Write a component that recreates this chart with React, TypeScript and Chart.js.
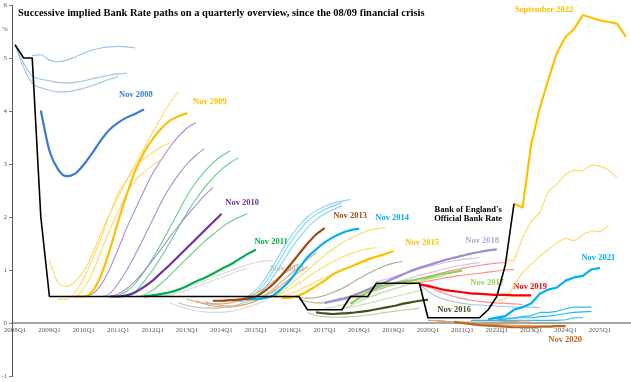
import React, { useEffect, useRef } from 'react';
import { Chart, registerables } from 'chart.js';

Chart.register(...registerables);

// ---------- x-axis tick labels (one every 4 quarters, 2008Q1 = quarter index 0) ----------
const tickLabels = [
  '2008Q1', '2009Q1', '2010Q1', '2011Q1', '2012Q1', '2013Q1', '2014Q1', '2015Q1', '2016Q1',
  '2017Q1', '2018Q1', '2019Q1', '2020Q1', '2021Q1', '2022Q1', '2023Q1', '2024Q1', '2025Q1',
];

// ---------- Bank of England's Official Bank Rate (quarterly, from 2008Q1) ----------
const bankRate = [
  5.25, 5.0, 5.0, 2.0,
  0.5, 0.5, 0.5, 0.5, 0.5, 0.5, 0.5, 0.5, 0.5, 0.5, 0.5, 0.5, 0.5, 0.5, 0.5,
  0.5, 0.5, 0.5, 0.5, 0.5, 0.5, 0.5, 0.5, 0.5, 0.5, 0.5, 0.5, 0.5, 0.5, 0.5,
  0.25, 0.25, 0.25, 0.25, 0.25,
  0.5, 0.5, 0.5,
  0.75, 0.75, 0.75, 0.75, 0.75, 0.75,
  0.1, 0.1, 0.1, 0.1, 0.1, 0.1, 0.1,
  0.25, 0.5, 1.1, 2.25,
];

// ---------- implied Bank Rate paths (quarterly values from their start quarter) ----------
const feb2008 = [5.25, 4.82, 4.52, 4.44, 4.39, 4.36, 4.36, 4.39, 4.43, 4.48, 4.54, 4.6, 4.65];
const may2008 = [5.25, 4.9, 4.66, 4.6, 4.57, 4.54, 4.53, 4.54, 4.57, 4.61, 4.64, 4.68, 4.7, 4.71];
const aug2008 = [5.05, 5.06, 4.96, 4.93, 4.96, 5.02, 5.09, 5.15, 5.19, 5.21, 5.22, 5.21, 5.19];
const nov2008 = [4.01, 3.25, 2.9, 2.77, 2.82, 2.99, 3.21, 3.45, 3.65, 3.78, 3.88, 3.95, 4.03];

const feb2009 = [1.19, 0.76, 0.69, 0.79, 0.98, 1.3, 1.7, 2.05, 2.38, 2.7, 3.0, 3.3, 3.6, 3.88, 4.15, 4.36];
const may2009 = [0.45, 0.45, 0.58, 0.85, 1.2, 1.6, 2.05, 2.45, 2.7, 2.95, 3.1, 3.22, 3.32, 3.4];
const aug2009 = [0.47, 0.65, 0.95, 1.35, 1.75, 2.1, 2.45, 2.7, 2.85, 2.97, 3.09];
const nov2009 = [0.5, 0.5, 0.6, 0.9, 1.37, 1.92, 2.43, 2.88, 3.22, 3.47, 3.67, 3.82, 3.9, 3.96];

const feb2010 = [0.5, 0.55, 0.72, 1.02, 1.4, 1.8, 2.15, 2.5, 2.82, 3.08, 3.32, 3.52, 3.68, 3.78];
const may2010 = [0.5, 0.5, 0.55, 0.75, 1.0, 1.3, 1.62, 1.95, 2.28, 2.56, 2.8, 3.0, 3.16, 3.29];
const aug2010 = [0.5, 0.5, 0.55, 0.65, 0.8, 0.98, 1.18, 1.4, 1.62, 1.83, 2.03, 2.22, 2.4, 2.56];
const nov2010 = [0.5, 0.5, 0.52, 0.58, 0.68, 0.8, 0.95, 1.1, 1.26, 1.42, 1.58, 1.74, 1.9, 2.06];

const feb2011 = [0.5, 0.52, 0.6, 0.75, 0.97, 1.22, 1.5, 1.8, 2.1, 2.4, 2.65, 2.85, 3.02, 3.15, 3.25];
const may2011 = [0.5, 0.52, 0.6, 0.78, 1.0, 1.25, 1.52, 1.8, 2.08, 2.33, 2.55, 2.74, 2.9, 3.02, 3.12];
const aug2011 = [0.5, 0.5, 0.53, 0.62, 0.75, 0.9, 1.06, 1.22, 1.38, 1.53, 1.67, 1.8, 1.91, 1.99, 2.06];
const nov2011 = [0.5, 0.52, 0.55, 0.58, 0.63, 0.7, 0.78, 0.85, 0.93, 1.02, 1.1, 1.2, 1.3, 1.38];

const feb2012 = [0.5, 0.52, 0.56, 0.61, 0.67, 0.73, 0.79, 0.86, 0.92, 0.98, 1.04, 1.1, 1.14, 1.17, 1.18];
const may2012 = [0.5, 0.53, 0.57, 0.62, 0.68, 0.74, 0.8, 0.86, 0.92, 0.98, 1.03];
const aug2012 = [0.38, 0.32, 0.27, 0.23, 0.21, 0.2, 0.2, 0.22, 0.25, 0.3, 0.35, 0.41];
const nov2012 = [0.38, 0.33, 0.3, 0.28, 0.28, 0.29, 0.31, 0.35, 0.4, 0.46, 0.52, 0.58, 0.64];

const feb2013 = [0.45, 0.4, 0.37, 0.36, 0.36, 0.38, 0.42, 0.48, 0.56, 0.66, 0.78, 0.9, 1.02, 1.12];
const may2013 = [0.42, 0.36, 0.32, 0.3, 0.3, 0.32, 0.36, 0.42, 0.5, 0.6, 0.72, 0.84, 0.96, 1.06];
const aug2013 = [0.4, 0.36, 0.33, 0.32, 0.33, 0.36, 0.42, 0.52, 0.64, 0.78, 0.92, 1.06, 1.2, 1.32];
const nov2013 = [0.42, 0.42, 0.43, 0.44, 0.46, 0.5, 0.6, 0.73, 0.9, 1.1, 1.3, 1.5, 1.67, 1.79];

const feb2014 = [0.42, 0.43, 0.45, 0.5, 0.62, 0.82, 1.08, 1.36, 1.62, 1.83, 2.0, 2.12, 2.2, 2.26, 2.3, 2.33];
const may2014 = [0.42, 0.46, 0.56, 0.74, 0.98, 1.25, 1.52, 1.74, 1.92, 2.05, 2.14, 2.21, 2.27];
const aug2014 = [0.4, 0.43, 0.5, 0.65, 0.87, 1.12, 1.38, 1.6, 1.8, 1.95, 2.06, 2.14, 2.21];
const nov2014 = [0.45, 0.45, 0.47, 0.52, 0.65, 0.81, 1.03, 1.24, 1.39, 1.52, 1.62, 1.7, 1.75, 1.78];

const feb2015 = [0.45, 0.47, 0.52, 0.6, 0.72, 0.86, 1.0, 1.14, 1.28, 1.4, 1.51, 1.6, 1.68, 1.74, 1.78, 1.8];
const may2015 = [0.47, 0.5, 0.56, 0.65, 0.75, 0.86, 0.97, 1.07, 1.16, 1.24, 1.31, 1.36, 1.4, 1.42];
const aug2015 = [0.47, 0.5, 0.55, 0.62, 0.7, 0.78, 0.86, 0.93, 1.0, 1.06, 1.12, 1.17];
const nov2015 = [0.47, 0.48, 0.52, 0.6, 0.7, 0.8, 0.92, 1.0, 1.06, 1.13, 1.2, 1.25, 1.3, 1.36];

const feb2016 = [0.5, 0.48, 0.47, 0.48, 0.52, 0.58, 0.65, 0.74, 0.84, 0.93, 1.01, 1.08, 1.13, 1.16];
const may2016 = [0.45, 0.4, 0.38, 0.38, 0.4, 0.43, 0.47, 0.52, 0.57, 0.62, 0.67, 0.72];
const aug2016 = [0.2, 0.14, 0.12, 0.11, 0.11, 0.12, 0.13, 0.15, 0.17, 0.2, 0.22, 0.24, 0.26, 0.28];
const nov2016 = [0.2, 0.18, 0.17, 0.18, 0.19, 0.21, 0.23, 0.26, 0.29, 0.32, 0.36, 0.39, 0.42, 0.44];

const feb2017 = [0.28, 0.3, 0.34, 0.39, 0.44, 0.49, 0.54, 0.59, 0.64, 0.69, 0.74, 0.79, 0.84, 0.88];
const may2017 = [0.25, 0.27, 0.3, 0.33, 0.37, 0.41, 0.45, 0.49, 0.53, 0.57, 0.61, 0.64];
const aug2017 = [0.27, 0.33, 0.4, 0.47, 0.53, 0.59, 0.64, 0.69, 0.74, 0.78, 0.82, 0.86, 0.89];
const nov2017 = [0.36, 0.48, 0.58, 0.66, 0.71, 0.75, 0.78, 0.8, 0.83, 0.86, 0.9, 0.93, 0.96, 0.99];

const feb2018 = [0.78, 0.82, 0.87, 0.92, 0.97, 1.02, 1.06, 1.1, 1.14, 1.17, 1.2, 1.22, 1.23];
const may2018 = [0.72, 0.76, 0.8, 0.85, 0.9, 0.94, 0.98, 1.02, 1.06, 1.09, 1.12, 1.14];
const nov2018 = [0.38, 0.42, 0.46, 0.5, 0.56, 0.63, 0.7, 0.77, 0.84, 0.91, 0.98, 1.04, 1.09, 1.14, 1.19, 1.23, 1.27, 1.31, 1.34, 1.37, 1.39];

const feb2019 = [0.72, 0.76, 0.8, 0.84, 0.88, 0.92, 0.96, 1.0, 1.03, 1.06, 1.09, 1.11, 1.13, 1.14];
const may2019 = [0.7, 0.73, 0.76, 0.79, 0.82, 0.85, 0.88, 0.9, 0.92, 0.94, 0.96, 0.98, 1.0, 1.01];
const aug2019 = [0.73, 0.68, 0.62, 0.55, 0.5, 0.46, 0.43, 0.41, 0.39, 0.38, 0.37, 0.36, 0.35];
const nov2019 = [0.73, 0.7, 0.66, 0.62, 0.6, 0.58, 0.56, 0.55, 0.54, 0.53, 0.53, 0.52, 0.52, 0.52];

const feb2020 = [0.73, 0.6, 0.5, 0.44, 0.4, 0.37, 0.35, 0.34, 0.33, 0.32, 0.31, 0.3, 0.3, 0.3, 0.29];
const may2020 = [0.05, 0.04, 0.03, 0.02, 0.02, 0.02, 0.02, 0.02, 0.02, 0.03, 0.03, 0.04, 0.04];
const aug2020 = [0.05, 0.03, 0.01, 0.0, -0.01, -0.02, -0.03, -0.03, -0.04, -0.04, -0.05, -0.05, -0.06, -0.06, -0.06, -0.06];
const nov2020 = [0.02, 0.0, -0.02, -0.04, -0.05, -0.06, -0.07, -0.08, -0.08, -0.08, -0.07, -0.07, -0.06, -0.06];

const feb2021 = [0.05, 0.05, 0.05, 0.05, 0.05, 0.05, 0.05, 0.05, 0.05, 0.05, 0.05, 0.06, 0.1, 0.1];
const may2021 = [0.08, 0.08, 0.09, 0.1, 0.12, 0.14, 0.2, 0.2, 0.22, 0.27, 0.3, 0.3, 0.3];
const aug2021 = [0.06, 0.07, 0.09, 0.1, 0.1, 0.12, 0.13, 0.15, 0.18, 0.2, 0.21, 0.22];
const nov2021 = [0.07, 0.1, 0.13, 0.25, 0.3, 0.37, 0.55, 0.63, 0.67, 0.8, 0.86, 0.89, 1.01, 1.04];

const feb2022 = [0.42, 0.45, 0.7, 0.95, 1.11, 1.26, 1.39, 1.52, 1.6, 1.55, 1.67, 1.74, 1.72, 1.83];
const may2022 = [1.2, 1.17, 1.61, 1.92, 2.08, 2.49, 2.62, 2.81, 2.88, 2.87, 2.98, 2.96, 2.89, 2.74];
const sep2022 = [2.25, 2.18, 3.37, 4.06, 4.6, 5.1, 5.4, 5.55, 5.81, 5.76, 5.71, 5.68, 5.65, 5.4];

// [name, first quarter, values]
const paths: [string, string, number[]][] = [
  ['Feb 2008', '2008Q1', feb2008], ['May 2008', '2008Q1', may2008], ['Aug 2008', '2008Q3', aug2008], ['Nov 2008', '2008Q4', nov2008],
  ['Feb 2009', '2009Q1', feb2009], ['May 2009', '2009Q2', may2009], ['Aug 2009', '2009Q4', aug2009], ['Nov 2009', '2009Q4', nov2009],
  ['Feb 2010', '2010Q1', feb2010], ['May 2010', '2010Q2', may2010], ['Aug 2010', '2010Q3', aug2010], ['Nov 2010', '2010Q4', nov2010],
  ['Feb 2011', '2010Q4', feb2011], ['May 2011', '2011Q1', may2011], ['Aug 2011', '2011Q2', aug2011], ['Nov 2011', '2011Q4', nov2011],
  ['Feb 2012', '2012Q1', feb2012], ['May 2012', '2012Q2', may2012], ['Aug 2012', '2012Q3', aug2012], ['Nov 2012', '2012Q4', nov2012],
  ['Feb 2013', '2013Q1', feb2013], ['May 2013', '2013Q2', may2013], ['Aug 2013', '2013Q3', aug2013], ['Nov 2013', '2013Q4', nov2013],
  ['Feb 2014', '2014Q1', feb2014], ['May 2014', '2014Q3', may2014], ['Aug 2014', '2014Q3', aug2014], ['Nov 2014', '2014Q4', nov2014],
  ['Feb 2015', '2015Q1', feb2015], ['May 2015', '2015Q2', may2015], ['Aug 2015', '2015Q3', aug2015], ['Nov 2015', '2015Q4', nov2015],
  ['Feb 2016', '2016Q1', feb2016], ['May 2016', '2016Q2', may2016], ['Aug 2016', '2016Q3', aug2016], ['Nov 2016', '2016Q4', nov2016],
  ['Feb 2017', '2017Q1', feb2017], ['May 2017', '2017Q2', may2017], ['Aug 2017', '2017Q3', aug2017], ['Nov 2017', '2017Q4', nov2017],
  ['Feb 2018', '2018Q3', feb2018], ['May 2018', '2018Q4', may2018], ['Nov 2018', '2017Q1', nov2018],
  ['Feb 2019', '2019Q1', feb2019], ['May 2019', '2019Q2', may2019], ['Aug 2019', '2019Q4', aug2019], ['Nov 2019', '2019Q4', nov2019],
  ['Feb 2020', '2019Q4', feb2020], ['May 2020', '2020Q1', may2020], ['Aug 2020', '2020Q2', aug2020], ['Nov 2020', '2020Q4', nov2020],
  ['Feb 2021', '2021Q2', feb2021], ['May 2021', '2021Q4', may2021], ['Aug 2021', '2022Q1', aug2021], ['Nov 2021', '2021Q4', nov2021],
  ['Feb 2022', '2022Q1', feb2022], ['May 2022', '2022Q2', may2022], ['September 2022', '2022Q3', sep2022],
];

// ---------- styles ----------
const groupColors: Record<string, [string, string]> = {
  '2008': ['#9dc3e6', '#3a7ad6'],
  '2009': ['#ffd966', '#ffc000'],
  '2010': ['#a98bd4', '#7030a0'],
  '2011': ['#63cc8e', '#00b050'],
  '2012': ['#d9d9d9', '#bfbfbf'],
  '2013': ['#d8a77c', '#9c4a0c'],
  '2014': ['#7fd3f7', '#00b0f0'],
  '2015': ['#ffd966', '#ffc000'],
  '2016': ['#a9ae8c', '#3d5220'],
  '2017': ['#c5e0b4', '#92d050'],
  '2018': ['#cdc2e6', '#9d8fcf'],
  '2019': ['#ff8a8a', '#ff0000'],
  '2020': ['#d6a06a', '#c0651f'],
  '2021': ['#29b9f0', '#00b0f0'],
  '2022': ['#ffd966', '#ffc000'],
};
const specialColors: Record<string, string> = {
  'Feb 2020': '#a9bfe0',
  'Nov 2012': '#bfbfbf',
  'Aug 2016': '#c3c8a8',
  'May 2016': '#b3b3a0',
};
const thickNames = new Set([
  'Nov 2008', 'Nov 2009', 'Nov 2010', 'Nov 2011', 'Nov 2013', 'Nov 2014', 'Nov 2015', 'Nov 2016',
  'Nov 2017', 'Nov 2018', 'Nov 2019', 'Nov 2020', 'Nov 2021', 'September 2022',
]);
const straightNames = new Set([
  'Feb 2021', 'May 2021', 'Aug 2021', 'Nov 2021', 'Feb 2022', 'May 2022', 'September 2022',
]);

// ---------- text annotations: [text, quarter index, value, colour] ----------
const annotations: [string, number, number, string][] = [
  ['Nov 2008', 14.05, 4.3, '#3a7ad6'],
  ['Nov 2009', 22.65, 4.17, '#ffc000'],
  ['Nov 2010', 26.4, 2.26, '#7030a0'],
  ['Nov 2011', 29.77, 1.53, '#00b050'],
  ['Nov 2012', 31.63, 1.02, '#bfbfbf'],
  ['Nov 2013', 38.95, 2.02, '#9c4a0c'],
  ['Nov 2014', 43.84, 1.98, '#00b0f0'],
  ['Nov 2015', 47.33, 1.51, '#ffc000'],
  ['Nov 2018', 54.3, 1.55, '#b4a7d6'],
  ['Nov 2017', 54.88, 0.75, '#92d050'],
  ['Nov 2019', 59.88, 0.68, '#ff0000'],
  ['Nov 2016', 51.05, 0.25, '#3d4d1c'],
  ['Nov 2020', 63.95, -0.32, '#c0651f'],
  ['Nov 2021', 67.8, 1.23, '#00b0f0'],
  ['September 2022', 61.5, 5.91, '#ffc000'],
  ["Bank of England's", 52.67, 2.13, '#000000'],
  ['Official Bank Rate', 52.67, 1.96, '#000000'],
];

const titleText = 'Successive implied Bank Rate paths on a quarterly overview, since the 08/09 financial crisis';
const SERIF = '"Liberation Serif", "DejaVu Serif", serif';

const qIndex = (q: string) => (parseInt(q.slice(0, 4), 10) - 2008) * 4 + parseInt(q.slice(5), 10) - 1;
const toPoints = (start: string, values: number[]) =>
  values.map((v, k) => ({ x: qIndex(start) + k, y: v }));

const textPlugin = {
  id: 'textPlugin',
  beforeDatasetsDraw(chart: any) {
    const { ctx, scales } = chart;
    const x = scales.x;
    const y = scales.y;
    ctx.save();
    ctx.textAlign = 'center';
    ctx.textBaseline = 'middle';
    ctx.font = `bold 8.5px ${SERIF}`;
    for (const [text, qx, vy, color] of annotations) {
      ctx.fillStyle = color;
      ctx.fillText(text, x.getPixelForValue(qx), y.getPixelForValue(vy));
    }
    // unit label
    ctx.fillStyle = '#595959';
    ctx.font = `7px ${SERIF}`;
    ctx.fillText('%', 5, y.getPixelForValue(5.55));
    ctx.restore();
  },
  afterDraw(chart: any) {
    const { ctx, chartArea } = chart;
    ctx.save();
    ctx.font = `bold 10px ${SERIF}`;
    const w = ctx.measureText(titleText).width;
    const size = 10 * 407 / w;
    ctx.font = `bold ${size.toFixed(2)}px ${SERIF}`;
    ctx.fillStyle = '#000';
    ctx.textAlign = 'left';
    ctx.textBaseline = 'middle';
    ctx.fillText(titleText, chartArea.left + 6, chartArea.top + 8);
    ctx.restore();
  },
};

export default function App() {
  const ref = useRef<HTMLCanvasElement>(null);

  useEffect(() => {
    document.body.style.margin = '0';
    const datasets: any[] = [];
    datasets.push({
      label: "Bank of England's Official Bank Rate",
      data: toPoints('2008Q1', bankRate),
      borderColor: '#000000',
      borderWidth: 1.6,
      tension: 0,
      order: 0,
    });
    for (const [name, start, values] of paths) {
      const year = name.slice(-4);
      const thick = thickNames.has(name);
      const color = specialColors[name] || groupColors[year][thick ? 1 : 0];
      const ds: any = {
        label: name,
        data: toPoints(start, values),
        borderColor: color,
        borderWidth: thick ? 2.2 : 1.1,
        order: thick ? 1 : 2,
      };
      if (straightNames.has(name)) ds.tension = 0;
      else ds.cubicInterpolationMode = 'monotone';
      datasets.push(ds);
    }

    const chart = new Chart(ref.current as HTMLCanvasElement, {
      type: 'line',
      data: { datasets },
      options: {
        animation: false,
        responsive: false,
        maintainAspectRatio: false,
        events: [],
        layout: { padding: { left: 0, right: 0, top: 5, bottom: 6 } },
        elements: {
          point: { radius: 0, hoverRadius: 0 },
          line: { fill: false, borderJoinStyle: 'round', borderCapStyle: 'butt' },
        },
        plugins: {
          legend: { display: false },
          tooltip: { enabled: false },
          title: { display: false },
        },
        scales: {
          x: {
            type: 'linear',
            min: -0.35,
            max: 71.6,
            position: { y: 0 } as any,
            grid: { display: false, drawTicks: false },
            border: { display: true, color: '#a6a6a6', width: 2 },
            afterBuildTicks: (s: any) => {
              s.ticks = tickLabels.map((_, k) => ({ value: k * 4 }));
            },
            afterFit: (s: any) => {
              s.paddingLeft = 0;
              s.paddingRight = 0;
            },
            ticks: {
              autoSkip: false,
              maxRotation: 0,
              minRotation: 0,
              padding: 3,
              color: '#595959',
              font: { family: SERIF, size: 7 },
              callback: (v: any) => tickLabels[Math.round(Number(v) / 4)] ?? '',
            },
          },
          y: {
            type: 'linear',
            position: 'left',
            min: -1,
            max: 6,
            grid: { display: true, drawOnChartArea: false, drawTicks: true, tickLength: 3, color: '#7f7f7f' },
            border: { display: true, color: '#595959', width: 1 },
            afterFit: (s: any) => {
              s.width = 12;
              s.paddingTop = 0;
              s.paddingBottom = 0;
            },
            ticks: {
              stepSize: 1,
              padding: 2,
              color: '#595959',
              font: { family: SERIF, size: 7 },
            },
          },
        },
      },
      plugins: [textPlugin],
    } as any);

    return () => chart.destroy();
  }, []);

  return (
    <div style={{ position: 'fixed', left: 0, top: 0, width: 631, height: 382, background: '#ffffff' }}>
      <canvas ref={ref} width={631} height={382} style={{ display: 'block', width: 631, height: 382 }} />
    </div>
  );
}
